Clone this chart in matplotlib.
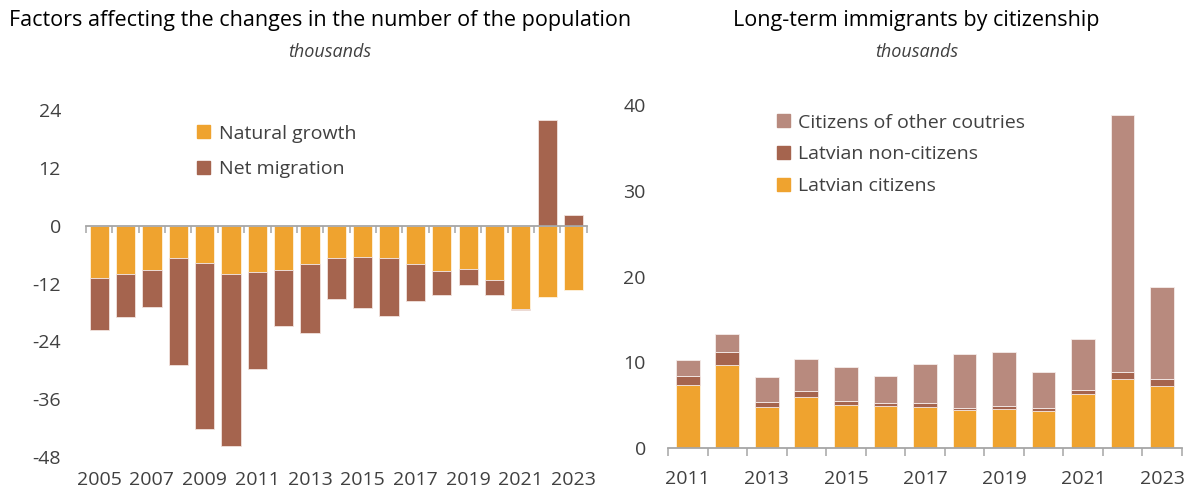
import numpy as np
import matplotlib
matplotlib.use("Agg")
import matplotlib.pyplot as plt
from matplotlib.patches import Patch

plt.rcParams["font.family"] = ["Open Sans", "DejaVu Sans"]

# Population change components, thousands
years_a = list(range(2005, 2024))
natural_growth = [-10.9, -10.1, -9.1, -6.6, -7.8, -10.1, -9.7, -9.1, -8.0, -6.7,
                  -6.5, -6.6, -7.9, -9.4, -8.9, -11.2, -17.2, -14.8, -13.4]
net_migration = [-10.8, -8.9, -7.8, -22.3, -34.4, -35.6, -20.0, -11.8, -14.3, -8.6,
                 -10.5, -12.2, -7.8, -4.9, -3.3, -3.2, -0.2, 21.9, 2.3]

# Long-term immigrants by citizenship, thousands
years_b = list(range(2011, 2024))
latvian_citizens = [7.4, 9.7, 4.8, 5.9, 5.0, 4.9, 4.8, 4.4, 4.6, 4.3, 6.3, 8.05, 7.25]
non_citizens = [1.05, 1.5, 0.6, 0.7, 0.45, 0.3, 0.45, 0.3, 0.3, 0.35, 0.45, 0.85, 0.75]
other_citizens = [1.8, 2.1, 2.9, 3.8, 4.05, 3.2, 4.6, 6.25, 6.35, 4.25, 6.0, 29.95, 10.75]

ORANGE = "#EFA32F"
BROWN = "#A5644E"
ROSE = "#B88A7E"
TEXT = "#404040"
AXIS = "#A6A6A6"

fig = plt.figure(figsize=(11.95, 4.94), dpi=100)
ax1 = fig.add_axes([0.072, 0.075, 0.419, 0.702])
ax2 = fig.add_axes([0.559, 0.093, 0.430, 0.694])

# ---- left: factors of population change ----
xa = np.arange(len(years_a))
ng = np.array(natural_growth)
nm = np.array(net_migration)
mig_base = np.where(nm < 0, ng, 0.0)
ax1.bar(xa, ng, width=0.73, color=ORANGE, edgecolor="#FFF3E0", linewidth=0.6, zorder=2)
ax1.bar(xa, nm, bottom=mig_base, width=0.73, color=BROWN, edgecolor="#F2E3DE",
        linewidth=0.6, zorder=2)
ax1.set_xlim(-0.5, len(years_a) - 0.5)
ax1.set_ylim(-48, 24)
ax1.set_yticks(np.arange(-48, 25, 12))
ax1.set_yticklabels([str(v) for v in np.arange(-48, 25, 12)])
for s in ("left", "right", "top"):
    ax1.spines[s].set_visible(False)
ax1.spines["bottom"].set_position(("data", 0))
ax1.spines["bottom"].set_color(AXIS)
ax1.spines["bottom"].set_linewidth(1.3)
ax1.set_xticks(xa - 0.5, minor=False)
ax1.set_xticks([len(years_a) - 0.5], minor=True)
ax1.tick_params(axis="x", which="both", length=5, width=1.1, color=AXIS,
                labelbottom=False, direction="out")
ax1.tick_params(axis="y", length=0, pad=18, labelsize=14, labelcolor=TEXT)
sec = ax1.secondary_xaxis("bottom")
sec.set_xticks(xa[::2], [str(y) for y in years_a[::2]])
sec.spines["bottom"].set_visible(False)
sec.tick_params(axis="x", length=0, pad=10, labelsize=14, labelcolor=TEXT)

ax1.legend(
    handles=[Patch(color=ORANGE, label="Natural growth"),
             Patch(color=BROWN, label="Net migration")],
    loc="upper left", bbox_to_anchor=(0.222, 0.958), frameon=False,
    fontsize=14, handlelength=0.65, handleheight=0.65, handletextpad=0.45,
    labelspacing=0.9, borderpad=0, borderaxespad=0, labelcolor=TEXT)

# ---- right: long-term immigrants ----
xb = np.arange(len(years_b))
lc = np.array(latvian_citizens)
nc = np.array(non_citizens)
oc = np.array(other_citizens)
ax2.bar(xb, lc, width=0.6, color=ORANGE, edgecolor="#FFF3E0", linewidth=0.6, zorder=2)
ax2.bar(xb, nc, bottom=lc, width=0.6, color=BROWN, edgecolor="#F2E3DE", linewidth=0.6, zorder=2)
ax2.bar(xb, oc, bottom=lc + nc, width=0.6, color=ROSE, edgecolor="#F5ECEA", linewidth=0.6, zorder=2)
ax2.set_xlim(-0.5, len(years_b) - 0.5)
ax2.set_ylim(0, 40)
ax2.set_yticks(np.arange(0, 41, 10))
for s in ("left", "right", "top"):
    ax2.spines[s].set_visible(False)
ax2.spines["bottom"].set_color(AXIS)
ax2.spines["bottom"].set_linewidth(1.3)
ax2.set_xticks(xb[::2], [str(y) for y in years_b[::2]])
ax2.set_xticks(np.arange(len(years_b) + 1) - 0.5, minor=True)
ax2.tick_params(axis="x", which="major", length=0, pad=16, labelsize=14, labelcolor=TEXT)
ax2.tick_params(axis="x", which="minor", length=6, width=1.1, color=AXIS, direction="out")
ax2.tick_params(axis="y", length=0, pad=16, labelsize=14, labelcolor=TEXT)

ax2.legend(
    handles=[Patch(color=ROSE, label="Citizens of other coutries"),
             Patch(color=BROWN, label="Latvian non-citizens"),
             Patch(color=ORANGE, label="Latvian citizens")],
    loc="upper left", bbox_to_anchor=(0.212, 0.975), frameon=False,
    fontsize=14, handlelength=0.65, handleheight=0.65, handletextpad=0.45,
    labelspacing=0.7, borderpad=0, borderaxespad=0, labelcolor=TEXT)

# ---- titles ----
fig.text(0.268, 0.958, "Factors affecting the changes in the number of the population",
         ha="center", va="center", fontsize=15.5, color="black")
fig.text(0.276, 0.895, "thousands", ha="center", va="center", fontsize=13,
         style="italic", color=TEXT)
fig.text(0.767, 0.958, "Long-term immigrants by citizenship",
         ha="center", va="center", fontsize=15.5, color="black")
fig.text(0.767, 0.895, "thousands", ha="center", va="center", fontsize=13,
         style="italic", color=TEXT)

fig.savefig("out.png", dpi=100)
